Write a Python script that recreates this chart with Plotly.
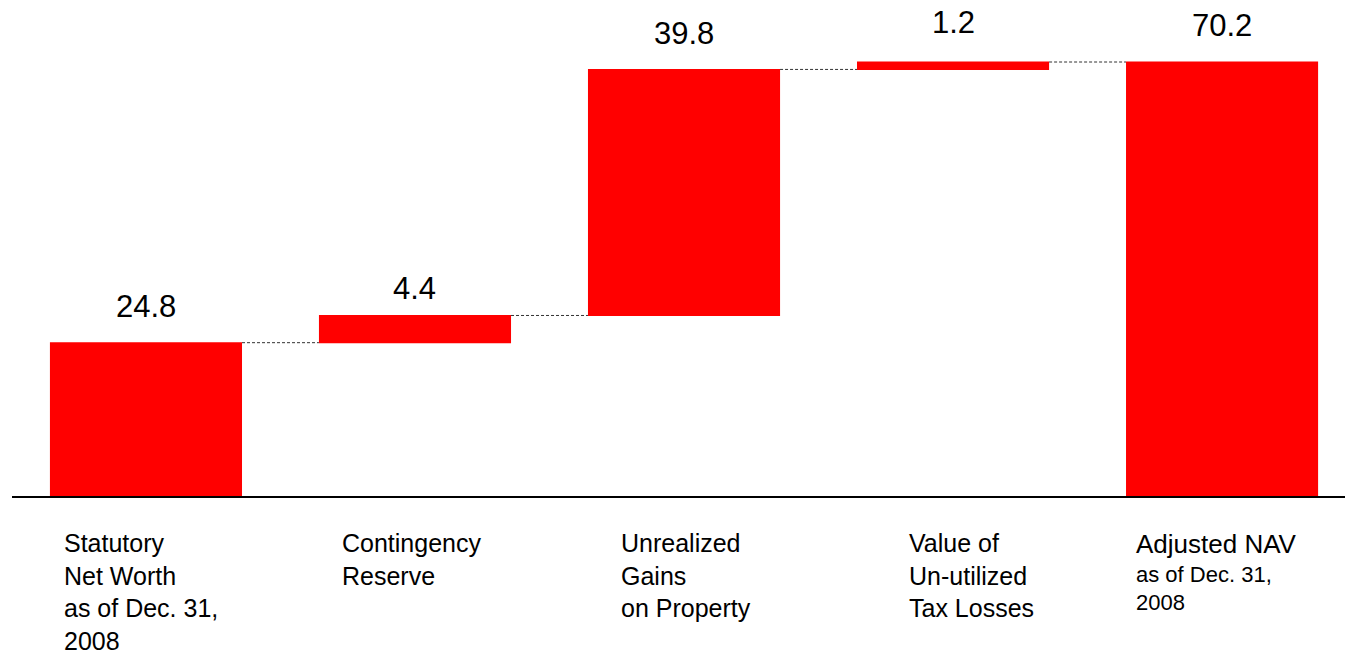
import plotly.graph_objects as go

categories = ["Statutory<br>Net Worth<br>as of Dec. 31,<br>2008",
              "Contingency<br>Reserve",
              "Unrealized<br>Gains<br>on Property",
              "Value of<br>Un-utilized<br>Tax Losses",
              "<span style='font-size:26px'>Adjusted NAV</span><br>as of Dec. 31,<br>2008"]
values = [24.8, 4.4, 39.8, 1.2, 70.2]
measures = ["absolute", "relative", "relative", "relative", "total"]
value_labels = ["24.8", "4.4", "39.8", "1.2", "70.2"]

# styling (pixel offsets / sizes for labels)
label_xshift = [-84, -75, -65, -46, -88]
label_size = [25, 25, 25, 25, 22]
label_yshift = [-31, -31, -31, -31, -31]
value_yshift = [17, 7, 16, 20, 17]

RED = "#FF0000"
xs = list(range(len(values)))

fig = go.Figure()
fig.add_trace(go.Waterfall(
    x=xs, y=values, measure=measures,
    width=[0.714] * len(values),
    increasing=dict(marker=dict(color=RED, line=dict(width=0))),
    decreasing=dict(marker=dict(color=RED, line=dict(width=0))),
    totals=dict(marker=dict(color=RED, line=dict(width=0))),
    connector=dict(line=dict(color="#333333", width=1, dash="3px,2px")),
    hoverinfo="skip",
))

# cumulative tops for value labels
tops = []
run = 0
for v, m in zip(values, measures):
    if m == "absolute":
        run = v
    elif m == "relative":
        run += v
    tops.append(run)

annotations = []
for i, (t, lab) in enumerate(zip(tops, value_labels)):
    annotations.append(dict(
        x=i, y=t, xref="x", yref="y", text=lab, showarrow=False,
        xanchor="center", yanchor="bottom", yshift=value_yshift[i],
        font=dict(family="Liberation Sans, Arial, sans-serif", size=31, color="black"),
    ))
for i, cat in enumerate(categories):
    annotations.append(dict(
        x=i, y=0, xref="x", yref="paper", text=cat, showarrow=False,
        xanchor="left", yanchor="top", align="left",
        xshift=label_xshift[i], yshift=label_yshift[i],
        font=dict(family="Liberation Sans, Arial, sans-serif", size=label_size[i], color="black"),
    ))

fig.update_layout(
    width=1345, height=654,
    margin=dict(l=12, r=0, t=0, b=158),
    paper_bgcolor="white", plot_bgcolor="white",
    showlegend=False,
    xaxis=dict(range=[-0.498, 4.457], showgrid=False, zeroline=False,
               showticklabels=False, ticks="", showline=True,
               linecolor="black", linewidth=2, fixedrange=True),
    yaxis=dict(range=[0, 80.23], visible=False, showgrid=False, zeroline=False),
    annotations=annotations,
)

fig.write_html("out.html", config={"displayModeBar": False})
